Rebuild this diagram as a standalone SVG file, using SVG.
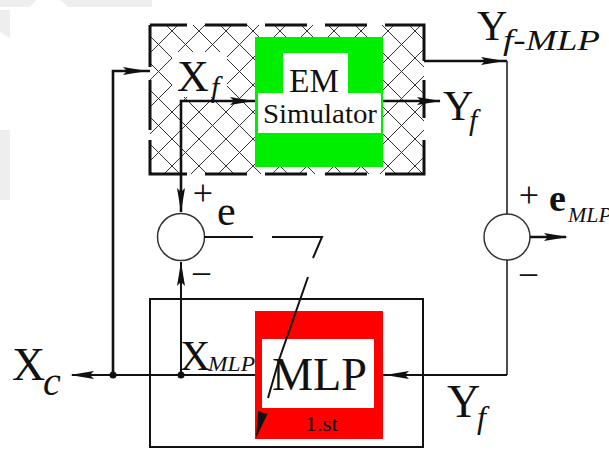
<svg xmlns="http://www.w3.org/2000/svg" width="609" height="449" viewBox="0 0 609 449">
<style>
.t{font-family:"Liberation Serif","Times New Roman",serif;fill:#111}
.i{font-style:italic}
.thick{stroke:#111;stroke-width:2.6;fill:none}
.med{stroke:#111;stroke-width:2;fill:none}
.thin{stroke:#222;stroke-width:1.6;fill:none}
.brd{stroke:#111;stroke-width:3;fill:none}
.sum{fill:#fff;stroke:#333;stroke-width:1.5}
</style>
<defs>
<pattern id="hatch" patternUnits="userSpaceOnUse" width="27" height="27" x="172" y="112">
<path d="M0,0 L27,27 M27,0 L0,27 M-1,26 L1,28 M26,-1 L28,1 M-1,1 L1,-1 M26,28 L28,26" stroke="#333" stroke-width="1"/>
</pattern>
<path id="ah" d="M0,0 L-24,-4 L-20,0 L-24,4 Z" fill="#111"/>
</defs>
<rect width="609" height="449" fill="#fff"/>
<g id="watermark" fill="#eeeeee">
<path d="M0,0 H36 L30,7 H0 Z"/>
<path d="M60,0 H152 V7 H68 Z"/>
<path d="M0,10 H10 V38 L0,32 Z"/>
<path d="M0,130 H10 V200 H0 Z"/>
</g>
<g id="em-simulator">
<rect x="150" y="25" width="274" height="149" fill="url(#hatch)"/>
<rect x="172" y="52" width="55" height="45" fill="#fff"/>
<path class="brd" d="M150,25 H187 M205,25 H247 M265,25 H307 M325,25 H367 M385,25 H424 V61 M424,80 V118 M424,140 V174 H385 M367,174 H325 M307,174 H265 M247,174 H205 M187,174 H150 V140 M150,130 V80 M150,67 V25"/>
<rect x="255" y="37" width="128" height="130" fill="#00ee00"/>
<path d="M283,53 H348 V93 H381 V133 H258 V93 H283 Z" fill="#fff"/>
<text class="t" x="314" y="92" font-size="33" text-anchor="middle">EM</text>
<text class="t" x="263" y="123" font-size="28" textLength="114" lengthAdjust="spacingAndGlyphs">Simulator</text>
</g>
<g id="mlp">
<rect x="150" y="299" width="273" height="148" fill="#fff" stroke="#111" stroke-width="2"/>
<rect x="255" y="311" width="128" height="128" fill="#ff0000"/>
<rect x="262" y="339" width="112" height="69" fill="#fff"/>
<text class="t" x="272" y="390" font-size="46" textLength="95" lengthAdjust="spacingAndGlyphs">MLP</text>
<text class="t" x="305" y="431" font-size="22" textLength="33" lengthAdjust="spacingAndGlyphs">1.st</text>
</g>
<g id="sum-e">
<circle class="sum" cx="181" cy="237" r="23.5"/>
</g>
<g id="sum-emlp">
<circle class="sum" cx="507" cy="237" r="23"/>
</g>
<g id="connectors">
<path class="thick" d="M113,375 V71 H150"/>
<use href="#ah" transform="translate(147,71)"/>
<path class="thick" d="M181,212 V101 H255"/>
<use href="#ah" transform="translate(254,101)"/>
<use href="#ah" transform="translate(181,212) rotate(90)"/>
<path class="thick" d="M383,101 H440"/>
<use href="#ah" transform="translate(441,101)"/>
<path class="thick" d="M424,61 H507"/>
<use href="#ah" transform="translate(505,61)"/>
<path class="thin" d="M507,61 V214 M507,260 V375"/>
<path class="med" d="M507,375 H383"/>
<use href="#ah" transform="translate(385,375) rotate(180)"/>
<path class="thick" d="M530,237 H566"/>
<use href="#ah" transform="translate(568,237)"/>
<path class="med" d="M204,237 H253 M272,237 H322 L313,258"/>
<path class="med" d="M308,277 L279,360 L268,398"/>
<path d="M256,438 L258.2,410.5 L263,413 L267.8,413.5 Z" fill="#111"/>
<path class="med" d="M255,375 H72"/>
<use href="#ah" transform="translate(70,375) rotate(180)"/>
<path class="med" d="M181,375 V262"/>
<use href="#ah" transform="translate(181,262) rotate(-90)"/>
<circle cx="113" cy="375" r="3.5" fill="#111"/>
<circle cx="181" cy="375" r="3.5" fill="#111"/>
</g>
<g id="labels">
<text class="t" x="177" y="91" font-size="44">X</text>
<text class="t i" x="211" y="97" font-size="30">f</text>
<text class="t" x="443" y="120" font-size="42">Y</text>
<text class="t i" x="469" y="130" font-size="30">f</text>
<text class="t" x="477" y="40" font-size="42">Y</text>
<text class="t i" x="503" y="50" font-size="30" textLength="97" lengthAdjust="spacingAndGlyphs">f-MLP</text>
<text class="t" x="203" y="205" font-size="36" text-anchor="middle">+</text>
<text class="t" x="217" y="225" font-size="42">e</text>
<text class="t" x="193" y="282" font-size="34">–</text>
<text class="t" x="529" y="207" font-size="36" text-anchor="middle">+</text>
<text class="t" x="549" y="211" font-size="38" font-weight="bold">e</text>
<text class="t i" x="568" y="222" font-size="22">MLP</text>
<text class="t" x="520" y="283" font-size="34">–</text>
<text class="t" x="12" y="380" font-size="46">X</text>
<text class="t i" x="43" y="395" font-size="40">c</text>
<text class="t" x="180" y="370" font-size="42">X</text>
<text class="t i" x="208" y="371" font-size="20" textLength="47" lengthAdjust="spacingAndGlyphs">MLP</text>
<text class="t" x="447" y="417" font-size="46">Y</text>
<text class="t i" x="477" y="428" font-size="32">f</text>
</g>
</svg>
